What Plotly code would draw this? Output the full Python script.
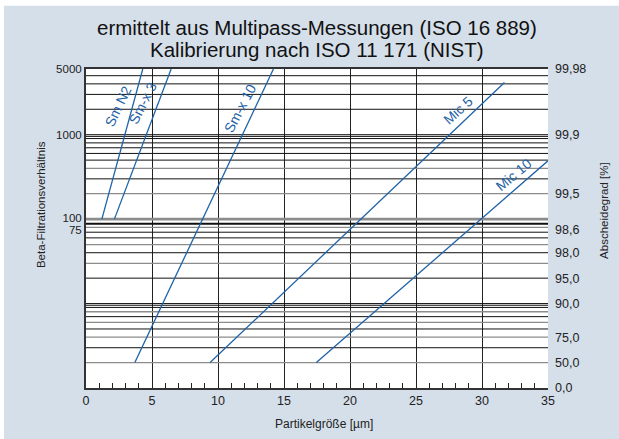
import math
import plotly.graph_objects as go

# Partikelgröße [µm] vs. Beta-Filtrationsverhältnis
sm_n2_size = [1.2, 4.3]
sm_n2_beta = [100, 6000]
smx3_size = [2.15, 6.45]
smx3_beta = [100, 6000]
smx10_size = [3.7, 14.2]
smx10_beta = [2, 6000]
mic5_size = [9.4, 31.7]
mic5_beta = [2, 4150]
mic10_size = [17.45, 35]
mic10_beta = [2, 490]

series_names = ["Sm N2", "Sm-x 3", "Sm-x 10", "Mic 5", "Mic 10"]

# grid of the beta scale
grid_black = [3, 5, 7, 9, 20, 40, 60, 70, 300, 500, 600, 700, 800, 900, 2000, 3000, 4000, 5000]
grid_gray = [2, 4, 6, 8, 30, 50, 80, 200, 400]
grid_black_double = [10, 1000]
grid_black_thick = [88]
grid_gray_thick = [100]

left_vals = [6000, 1000, 103, 74]
left_text = ["5000", "1000", "100", "75"]
right_vals = [6000, 1000, 200, 75, 40, 20, 10, 4, 2, 1]
right_text = ["99,98", "99,9", "99,5", "98,6", "98,0", "95,0", "90,0", "75,0", "50,0", "0,0"]

BG = "#d5dfea"
BLUE = "#1f63a6"
FONT = "Liberation Sans, Arial, sans-serif"


def hlines(vals):
    xs, ys = [], []
    for v in vals:
        xs += [0, 35, None]
        ys += [v, v, None]
    return xs, ys


fig = go.Figure()

# double lines at 10 and 1000: second line a hair below
doubles = grid_black_double + [v * 0.955 for v in grid_black_double]
for vals, col, w in [(grid_gray, "#8c8c8c", 1.3), (grid_black, "#111111", 1),
                     (doubles, "#111111", 1),
                     (grid_gray_thick, "#8c8c8c", 2.6), (grid_black_thick, "#111111", 2)]:
    gx, gy = hlines(vals)
    fig.add_trace(go.Scatter(x=gx, y=gy, mode="lines", line=dict(color=col, width=w),
                             hoverinfo="skip", showlegend=False))

data = [(sm_n2_size, sm_n2_beta), (smx3_size, smx3_beta), (smx10_size, smx10_beta),
        (mic5_size, mic5_beta), (mic10_size, mic10_beta)]
for name, (sx, sy) in zip(series_names, data):
    fig.add_trace(go.Scatter(x=sx, y=sy, mode="lines", name=name,
                             line=dict(color=BLUE, width=1.3), showlegend=False))

# dummy trace so the right axis is drawn
fig.add_trace(go.Scatter(x=[0], y=[1], yaxis="y2", mode="markers",
                         marker=dict(opacity=0), hoverinfo="skip", showlegend=False))

# curve labels (x, log10 y, angle), sitting just above-left of each line
label_pos = {
    "Sm N2": (2.42, 3.345, -64),
    "Sm-x 3": (4.32, 3.37, -63),
    "Sm-x 10": (11.69, 3.315, -62),
    "Mic 5": (28.2, 3.295, -42),
    "Mic 10": (32.37, 2.525, -40),
}
for name in series_names:
    lx, ly, ang = label_pos[name]
    fig.add_annotation(x=lx, y=ly, xref="x", yref="y", text=name, showarrow=False,
                       textangle=ang, xanchor="center", yanchor="middle",
                       font=dict(family=FONT, size=14, color=BLUE))


def note(text, x, y, size, angle=0, color="#222"):
    fig.add_annotation(x=x, y=y, xref="paper", yref="paper", text=text, showarrow=False,
                       xanchor="center", yanchor="middle", textangle=angle,
                       font=dict(family=FONT, size=size, color=color))


note("ermittelt aus Multipass-Messungen (ISO 16 889)", 0.4995, 1.13, 20.5, color="#111")
note("Kalibrierung nach ISO 11 171 (NIST)", 0.4995, 1.061, 20.5, color="#111")
note("Partikelgröße [µm]", 0.515, -0.113, 12)
note("Beta-Filtrationsverhältnis", -0.097, 0.574, 11.5, angle=-90)
note("Abscheidegrad [%]", 1.121, 0.558, 11.5, angle=-90)

# white edge strips of the original panel
fig.add_shape(type="rect", xref="paper", yref="paper", x0=-0.2, x1=-0.1775, y0=-0.2, y1=1.25,
              fillcolor="white", line_width=0)
fig.add_shape(type="rect", xref="paper", yref="paper", x0=-0.2, x1=1.2, y0=1.198, y1=1.25,
              fillcolor="white", line_width=0)

yrange = [0, math.log10(6000)]
fig.update_layout(
    width=619, height=439,
    margin=dict(l=86, r=71, t=69, b=51),
    paper_bgcolor=BG, plot_bgcolor="white",
    font=dict(family=FONT, size=12, color="#222"),
    xaxis=dict(range=[0, 35], tickvals=[0, 5, 10, 15, 20, 25, 30, 35],
               showgrid=True, gridcolor="#222", gridwidth=1.4, zeroline=False,
               showline=True, linecolor="#333", linewidth=2, mirror=True,
               ticks="inside", ticklen=5, tickcolor="#222",
               minor=dict(ticks="inside", dtick=1, ticklen=5, tickcolor="#222", showgrid=False),
               tickfont=dict(size=12.5)),
    yaxis=dict(type="log", range=yrange, tickvals=left_vals, ticktext=left_text,
               showgrid=False, zeroline=False, ticks="", showline=True,
               linecolor="#333", linewidth=2, tickfont=dict(size=11.5)),
    yaxis2=dict(type="log", range=yrange, overlaying="y", side="right",
                tickvals=right_vals, ticktext=right_text, showgrid=False,
                zeroline=False, ticks="", ticklabelstandoff=6, tickfont=dict(size=12.5)),
)

fig.write_html("out.html", config={"displayModeBar": False},
               post_script="document.body.style.margin='0';")
